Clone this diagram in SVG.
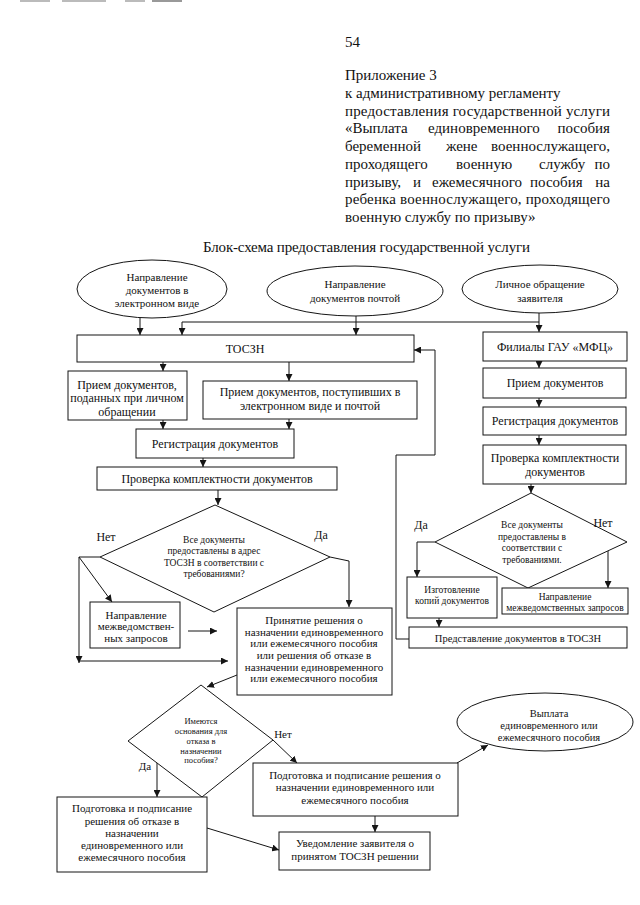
<svg xmlns="http://www.w3.org/2000/svg" width="640" height="905" viewBox="0 0 640 905" font-family="'Liberation Serif', 'DejaVu Serif', serif">
<defs>
<style>
.b{fill:#fff;stroke:#151515;stroke-width:1}
.c{fill:none;stroke:#151515;stroke-width:1}
text{font-family:'Liberation Serif','DejaVu Serif',serif;fill:#111}
.t{text-anchor:middle}
.h{font-size:15px}
.s12{font-size:12px}.s11{font-size:11px}.s105{font-size:10.5px}.s10{font-size:10px}.s9{font-size:9.5px}.s8{font-size:8.5px}
</style>
<marker id="a" markerUnits="userSpaceOnUse" markerWidth="7" markerHeight="7" refX="7" refY="3.5" orient="auto" viewBox="0 0 7 7">
<path d="M0,0 L7,3.5 L0,7 z" fill="#151515"/>
</marker>
</defs>
<rect width="640" height="905" fill="#fff"/>
<g id="scan-marks" fill="#bbb">
<rect x="20" y="0" width="30" height="2"/><rect x="62" y="0" width="44" height="2"/><rect x="125" y="0" width="20" height="2"/><rect x="152" y="0" width="30" height="2" fill="#999"/>
</g>
<g id="header">
<text class="h" x="345" y="47">54</text>
<text class="h" x="345" y="80">Приложение 3</text>
<text class="h" x="345" y="98">к административному регламенту</text>
<text class="h" x="345" y="116" textLength="265" lengthAdjust="spacing">предоставления государственной услуги</text>
<text class="h" y="133"><tspan x="345">«Выплата</tspan><tspan x="428">единовременного</tspan><tspan x="610" text-anchor="end">пособия</tspan></text>
<text class="h" y="151"><tspan x="345">беременной</tspan><tspan x="446">жене</tspan><tspan x="610" text-anchor="end">военнослужащего,</tspan></text>
<text class="h" y="169"><tspan x="345">проходящего</tspan><tspan x="456">военную</tspan><tspan x="539">службу</tspan><tspan x="610" text-anchor="end">по</tspan></text>
<text class="h" y="187"><tspan x="345">призыву,</tspan><tspan x="413">и</tspan><tspan x="432">ежемесячного</tspan><tspan x="530">пособия</tspan><tspan x="610" text-anchor="end">на</tspan></text>
<text class="h" x="345" y="204" textLength="265" lengthAdjust="spacing">ребенка военнослужащего, проходящего</text>
<text class="h" x="345" y="222">военную службу по призыву»</text>
<text class="h" x="203" y="252" textLength="327" lengthAdjust="spacing">Блок-схема предоставления государственной услуги</text>
</g>
<g id="connectors" class="c">
<path d="M140,318 V335" marker-end="url(#a)"/>
<path d="M182,322 H539"/>
<path d="M182,322 V335" marker-end="url(#a)"/>
<path d="M356,316 V335" marker-end="url(#a)"/>
<path d="M539,313 V332" marker-end="url(#a)"/>
<path d="M163,362 V371" marker-end="url(#a)"/>
<path d="M289,362 V381" marker-end="url(#a)"/>
<path d="M163,420 V429" marker-end="url(#a)"/>
<path d="M289,419 V429" marker-end="url(#a)"/>
<path d="M203,458 V467" marker-end="url(#a)"/>
<path d="M218,490 V505" marker-end="url(#a)"/>
<path d="M100,557 H79"/>
<path d="M79,557 L112,602" marker-end="url(#a)"/>
<path d="M79,557 V663" marker-end="url(#a)"/>
<path d="M79,661 H228" marker-end="url(#a)"/>
<path d="M188,631 H217" marker-end="url(#a)"/>
<path d="M330,557 L349,561 V607" marker-end="url(#a)"/>
<path d="M237,675 L207,687" marker-end="url(#a)"/>
<path d="M273,740 L297,763" marker-end="url(#a)"/>
<path d="M157,763 V797" marker-end="url(#a)"/>
<path d="M207,828 L279,850" marker-end="url(#a)"/>
<path d="M375,816 V832" marker-end="url(#a)"/>
<path d="M457,763 L488,745" marker-end="url(#a)"/>
<path d="M539,361 V368" marker-end="url(#a)"/>
<path d="M539,398 V407" marker-end="url(#a)"/>
<path d="M539,435 V445" marker-end="url(#a)"/>
<path d="M531,484 V493" marker-end="url(#a)"/>
<path d="M435,542 H417 V577" marker-end="url(#a)"/>
<path d="M608,551 V588" marker-end="url(#a)"/>
<path d="M439,618 V627" marker-end="url(#a)"/>
<path d="M409,639 H396 V455 H435 V350 H414" marker-end="url(#a)"/>
</g>
<g id="e1"><ellipse class="b" cx="152" cy="289" rx="75" ry="29"/>
<text class="t s11" x="157" y="281">Направление</text><text class="t s11" x="157" y="294">документов в</text><text class="t s11" x="157" y="307">электронном виде</text></g>
<g id="e2"><ellipse class="b" cx="355" cy="291" rx="88" ry="25"/>
<text class="t s11" x="355" y="288">Направление</text><text class="t s11" x="355" y="302">документов почтой</text></g>
<g id="e3"><ellipse class="b" cx="540" cy="289" rx="78" ry="24"/>
<text class="t s11" x="540" y="288">Личное обращение</text><text class="t s11" x="540" y="302">заявителя</text></g>
<g id="tosz"><rect class="b" x="77" y="335" width="337" height="27"/><text class="t s12" x="245" y="353">ТОСЗН</text></g>
<g id="priem1"><rect class="b" x="68" y="371" width="119" height="49"/>
<text class="t s12" x="127" y="389">Прием документов,</text><text class="t s12" x="127" y="402">поданных при личном</text><text class="t s12" x="127" y="416">обращении</text></g>
<g id="priem2"><rect class="b" x="203" y="381" width="214" height="38"/>
<text class="t s12" x="310" y="396">Прием документов, поступивших в</text><text class="t s12" x="310" y="410">электронном виде и почтой</text></g>
<g id="reg1"><rect class="b" x="136" y="429" width="158" height="29"/><text class="t s12" x="215" y="448">Регистрация документов</text></g>
<g id="prov1"><rect class="b" x="97" y="467" width="240" height="23"/><text class="t s12" x="217" y="483">Проверка комплектности документов</text></g>
<g id="d1"><polygon class="b" points="215,505 330,557 214,612 100,557"/>
<text class="t s9" x="214" y="543">Все  документы</text><text class="t s9" x="214" y="554">предоставлены в адрес</text><text class="t s9" x="214" y="566">ТОСЗН  в  соответствии с</text><text class="t s9" x="214" y="577">требованиями?</text></g>
<g id="lbl1"><text class="t s12" x="106" y="541">Нет</text><text class="t s12" x="321" y="539">Да</text></g>
<g id="mezh1"><rect class="b" x="90" y="602" width="90" height="46"/>
<text class="t s11" x="136" y="619">Направление</text><text class="t s11" x="136" y="630">межведомствен-</text><text class="t s11" x="136" y="642">ных запросов</text></g>
<g id="prin"><rect class="b" x="237" y="608" width="155" height="87"/>
<text class="t s11" x="314" y="624">Принятие решения о</text><text class="t s11" x="314" y="636">назначении единовременного</text><text class="t s11" x="314" y="647">или ежемесячного пособия</text><text class="t s11" x="314" y="659">или решения об отказе  в</text><text class="t s11" x="314" y="671">назначении единовременного</text><text class="t s11" x="314" y="682">или ежемесячного пособия</text></g>
<g id="d2"><polygon class="b" points="201,685 273,740 202,797 128,741"/>
<text class="t s8" x="201" y="724">Имеются</text><text class="t s8" x="201" y="734">основания для</text><text class="t s8" x="201" y="744">отказа в</text><text class="t s8" x="201" y="754">назначении</text><text class="t s8" x="201" y="763">пособия?</text></g>
<g id="lbl2"><text class="t s11" x="283" y="738">Нет</text><text class="t s11" x="145" y="770">Да</text></g>
<g id="podnaz"><rect class="b" x="253" y="763" width="205" height="53"/>
<text class="t s11" x="355" y="779">Подготовка и подписание решения о</text><text class="t s11" x="355" y="791">назначении единовременного или</text><text class="t s11" x="355" y="804">ежемесячного пособия</text></g>
<g id="vypl"><ellipse class="b" cx="545" cy="722" rx="88" ry="29"/>
<text class="t s105" x="549" y="717">Выплата</text><text class="t s105" x="549" y="729">единовременного или</text><text class="t s105" x="549" y="741">ежемесячного пособия</text></g>
<g id="otkaz"><rect class="b" x="57" y="797" width="150" height="75"/>
<text class="t s11" x="132" y="812">Подготовка и подписание</text><text class="t s11" x="132" y="825">решения об отказе в</text><text class="t s11" x="132" y="837">назначении</text><text class="t s11" x="132" y="849">единовременного или</text><text class="t s11" x="132" y="861">ежемесячного пособия</text></g>
<g id="uved"><rect class="b" x="279" y="832" width="151" height="38"/>
<text class="t s11" x="355" y="847">Уведомление заявителя о</text><text class="t s11" x="355" y="860">принятом ТОСЗН решении</text></g>
<g id="fil"><rect class="b" x="483" y="332" width="144" height="29"/><text class="t s12" x="555" y="351">Филиалы ГАУ «МФЦ»</text></g>
<g id="priem3"><rect class="b" x="483" y="368" width="143" height="30"/><text class="t s12" x="555" y="387">Прием документов</text></g>
<g id="reg2"><rect class="b" x="483" y="407" width="143" height="28"/><text class="t s12" x="555" y="425">Регистрация документов</text></g>
<g id="prov2"><rect class="b" x="483" y="445" width="143" height="39"/><text class="t s12" x="555" y="462">Проверка комплектности</text><text class="t s12" x="555" y="476">документов</text></g>
<g id="d3"><polygon class="b" points="531,493 627,542 528,588 435,542"/>
<text class="t s9" x="532" y="528">Все документы</text><text class="t s9" x="532" y="540">предоставлены в</text><text class="t s9" x="532" y="551">соответствии с</text><text class="t s9" x="532" y="563">требованиями.</text></g>
<g id="lbl3"><text class="t s12" x="421" y="529">Да</text><text class="t s12" x="603" y="527">Нет</text></g>
<g id="izg"><rect class="b" x="407" y="577" width="90" height="41"/><text class="t s9" x="452" y="593">Изготовление</text><text class="t s9" x="452" y="604">копий документов</text></g>
<g id="mezh2"><rect class="b" x="502" y="588" width="126" height="26"/><text class="t s9" x="565" y="600">Направление</text><text class="t s9" x="565" y="611">межведомственных запросов</text></g>
<g id="pred"><rect class="b" x="409" y="627" width="218" height="21"/><text class="t s105" x="518" y="642">Представление документов в ТОСЗН</text></g>
</svg>
